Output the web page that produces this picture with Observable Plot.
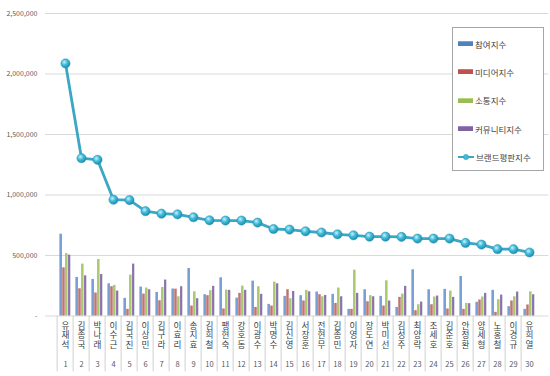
<!DOCTYPE html>
<html><head><meta charset="utf-8">
<script src="https://cdn.jsdelivr.net/npm/d3@7"></script>
<script src="https://cdn.jsdelivr.net/npm/@observablehq/plot@0.6"></script>
<style>
body{margin:0;background:#fff;font-family:"Noto Sans CJK KR","Noto Sans",sans-serif;}
#wrap{position:relative;width:550px;height:376px;overflow:hidden;}
#legend{position:absolute;left:452px;top:27px;width:92px;height:144px;border:1px solid #a6a6a6;background:#fff;box-sizing:border-box;font-size:8.5px;color:#404040;}
.item{position:absolute;left:5px;height:12px;display:flex;align-items:center;white-space:nowrap;}
.sw{width:15px;height:4px;margin-right:2px;}
</style></head><body>
<div id="wrap"><div id="chart"></div><div id="legend"></div></div>
<script>
const ranks = ["1","2","3","4","5","6","7","8","9","10","11","12","13","14","15","16","17","18","19","20","21","22","23","24","25","26","27","28","29","30"];
const names = ["유재석","김종국","박나래","이수근","김국진","이상민","김구라","이효리","송지효","김희철","팽현숙","강호동","이광수","박명수","김신영","서장훈","전현무","김종민","이영자","장도연","박미선","김성주","최양락","조세호","김준호","안정환","양세형","노홍철","이경규","유희열"];
const seriesNames = ["참여지수","미디어지수","소통지수","커뮤니티지수","브랜드평판지수"];
const participation = [676000,319000,302000,266000,146000,239000,195000,223000,393000,176000,316000,148000,288000,96000,162000,168000,198000,179000,55000,217000,162000,71000,382000,217000,220000,327000,113000,212000,77000,55000];
const media = [398000,225000,190000,242000,55000,181000,126000,222000,82000,168000,58000,187000,71000,82000,217000,124000,176000,104000,55000,118000,82000,154000,44000,93000,58000,55000,132000,30000,124000,91000];
const communication = [516000,429000,467000,253000,338000,231000,236000,159000,200000,209000,214000,247000,242000,280000,143000,212000,159000,231000,379000,168000,291000,181000,93000,157000,206000,104000,157000,135000,159000,200000];
const community = [503000,332000,343000,206000,429000,217000,297000,242000,143000,245000,212000,212000,179000,266000,203000,200000,170000,159000,187000,159000,124000,245000,115000,165000,154000,102000,187000,173000,198000,176000];
const brand = [2087000,1304000,1291000,961000,958000,866000,846000,840000,816000,791000,789000,789000,772000,719000,714000,700000,690000,675000,667000,656000,656000,654000,640000,640000,640000,604000,590000,552000,552000,525000];
const yTicks = [0,500000,1000000,1500000,2000000,2500000];

const barColors = [
  ["#3b69a5","#7aa2d8"],
  ["#a53c39","#d8726f"],
  ["#84a444","#b7d57a"],
  ["#684e8e","#9f86c0"]
];
const barSeries = [participation, media, communication, community];

const W = 550, H = 376, mL = 45, mR = 1.6, mT = 13, mB = 60.5;
const step = (W - mL - mR) / ranks.length;
const frameH = H - mT - mB;
const barW = 2.85, pad0 = 2.6;

const marks = [
  Plot.gridY(yTicks, {stroke:"#d9d9d9", strokeOpacity:1}),
  Plot.axisY({ticks: yTicks, tickSize:0, tickPadding:8, fontSize:7, fill:"#595959", label:null,
    tickFormat: d => d === 0 ? "-" : d3.format(",")(d)}),
  Plot.tickX(ranks, {x:d=>d, dx:-step/2, insetTop:frameH, insetBottom:-56, stroke:"#d0d0d0", strokeWidth:1})
];
barSeries.forEach((arr, k) => {
  const data = ranks.map((r,i)=>({cat:r, value:arr[i]}));
  const insetLeft = pad0 + k*barW;
  const insetRight = step - insetLeft - barW;
  marks.push(Plot.barY(data, {x:"cat", y:"value", fill:`url(#bar${k})`, insetLeft, insetRight}));
});
const brandData = ranks.map((r,i)=>({cat:r, value:brand[i]}));
marks.push(Plot.line(brandData, {x:"cat", y:"value", stroke:"#3ba7c4", strokeWidth:2.8}));
marks.push(Plot.dot(brandData, {x:"cat", y:"value", r:4.6, fill:"url(#sphere)", stroke:"#2590ae", strokeWidth:0.5}));
const nameData = ranks.map((r,i)=>({cat:r, name:names[i]}));
marks.push(Plot.text(nameData, {x:"cat", text:d=>[...d.name].join("\n"), frameAnchor:"bottom", lineAnchor:"top", dy:6, fontSize:8.6, lineHeight:1.12, fill:"#404040", fontFamily:'"Liberation Sans","Noto Sans CJK KR",sans-serif'}));
marks.push(Plot.text(ranks, {x:d=>d, text:d=>d, frameAnchor:"bottom", lineAnchor:"middle", dy:48.5, fontSize:7.5, fill:"#595959"}));

const svg = Plot.plot({
  width: W, height: H,
  marginLeft: mL, marginRight: mR, marginTop: mT, marginBottom: mB,
  style: {fontFamily:'"Noto Sans CJK KR","Noto Sans",sans-serif', background:"#fff", overflow:"visible"},
  x: {type:"band", domain: ranks, padding:0, axis:null, label:null},
  y: {domain:[0,2500000], axis:null, label:null},
  marks
});
const defs = d3.select(svg).insert("defs", ":first-child");
barColors.forEach(([dark, light], k) => {
  const g = defs.append("linearGradient").attr("id", `bar${k}`).attr("x1","0").attr("x2","1").attr("y1","0").attr("y2","0");
  g.append("stop").attr("offset","0").attr("stop-color", dark);
  g.append("stop").attr("offset","0.45").attr("stop-color", light);
  g.append("stop").attr("offset","1").attr("stop-color", dark);
});
const rg = defs.append("radialGradient").attr("id","sphere").attr("cx","0.38").attr("cy","0.35").attr("r","0.7");
rg.append("stop").attr("offset","0").attr("stop-color","#c9f1fb");
rg.append("stop").attr("offset","0.45").attr("stop-color","#3fbcdc");
rg.append("stop").attr("offset","1").attr("stop-color","#1b86a4");
document.getElementById("chart").appendChild(svg);

// legend
const legend = document.getElementById("legend");
const legendColors = ["#4f81bd","#c0504d","#9bbb59","#8064a2"];
seriesNames.forEach((n, i) => {
  const it = document.createElement("div");
  it.className = "item";
  it.style.top = (9.5 + i*28.4) + "px";
  if (i < 4) {
    it.innerHTML = `<span class="sw" style="background:${legendColors[i]};border-top:1px solid ${barColors[i][1]}"></span>${n}`;
  } else {
    it.innerHTML = `<svg width="17" height="8" style="margin-right:1px"><line x1="0" x2="16" y1="4" y2="4" stroke="#3ba7c4" stroke-width="2"/><circle cx="8" cy="4" r="2.6" fill="#3fbcdc" stroke="#2590ae" stroke-width="0.5"/></svg>${n}`;
  }
  legend.appendChild(it);
});
</script>
</body></html>
